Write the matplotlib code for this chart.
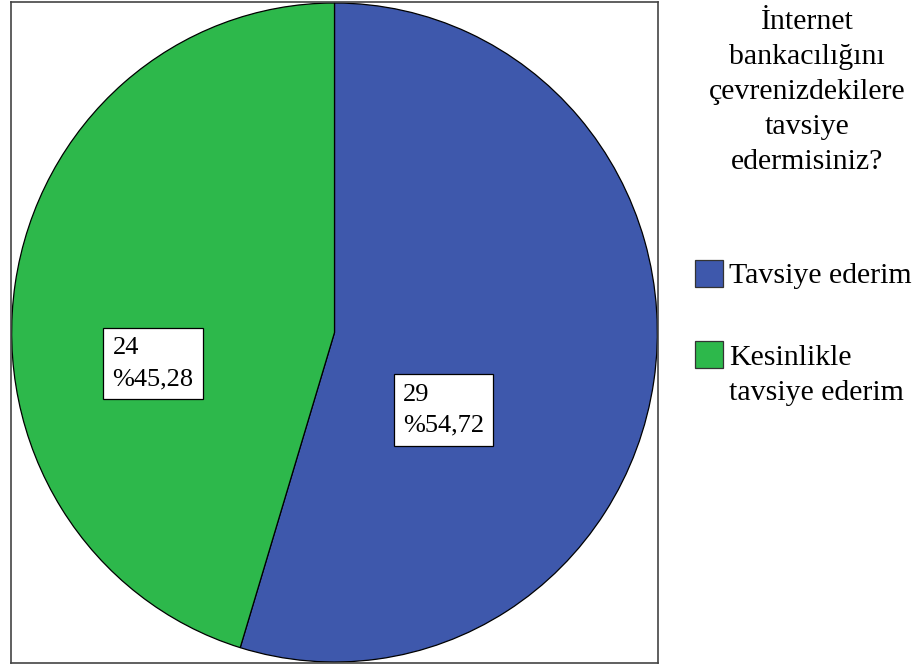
import matplotlib.pyplot as plt
from matplotlib.patches import Rectangle

# ── Data ───────────────────────────────────────────────────
labels = ["Tavsiye ederim", "Kesinlikle\ntavsiye ederim"]
counts = [29, 24]
colors = ["#3e58ac", "#2db84b"]
title = "İnternet\nbankacılığını\nçevrenizdekilere\ntavsiye\nedermisiniz?"

plt.rcParams["font.family"] = ["Liberation Serif", "DejaVu Serif"]

fig = plt.figure(figsize=(9.19, 6.64), dpi=100)
W, H = 919, 664

# ── Pie ────────────────────────────────────────────────────
ax = fig.add_axes([11 / W, 1 - 663 / H, 647 / W, 661 / H])
wedges, _ = ax.pie(counts, colors=colors, startangle=90, counterclock=False,
                   wedgeprops=dict(edgecolor="black", linewidth=0.9))
ax.set_aspect("auto")
ax.set_xlim(-1.002, 1.002)
ax.set_ylim(-1.003, 1.003)
ax.set_frame_on(True)
for s in ax.spines.values():
    s.set_visible(True)
    s.set_color("#444444")
    s.set_linewidth(1.2)

total = sum(counts)
label_pos = [(0.337, -0.236), (-0.562, -0.094)]
for c, (x, y) in zip(counts, label_pos):
    pct = f"{c / total * 100:.2f}".replace(".", ",")
    ax.text(x, y, f"{c}\n%{pct}", ha="center", va="center", fontsize=19,
            multialignment="left", linespacing=1.55,
            bbox=dict(boxstyle="square,pad=0.35", facecolor="white",
                      edgecolor="black", linewidth=0.9))

# ── Legend ─────────────────────────────────────────────────
fig.text(807 / W, 1 - 9 / H, title, ha="center", va="top", fontsize=21.5,
         linespacing=1.45)

sq_y = [260, 341]
txt_y = [283, 400]
for col, lab, sy, ty in zip(colors, labels, sq_y, txt_y):
    fig.patches.append(Rectangle((695 / W, 1 - (sy + 27) / H), 28 / W, 27 / H,
                                 facecolor=col, edgecolor="#333333",
                                 linewidth=0.9, transform=fig.transFigure))
    fig.text(729 / W, 1 - ty / H, lab, ha="left", va="baseline", fontsize=21.5,
             linespacing=1.45)

plt.savefig("out.png", dpi=100)
